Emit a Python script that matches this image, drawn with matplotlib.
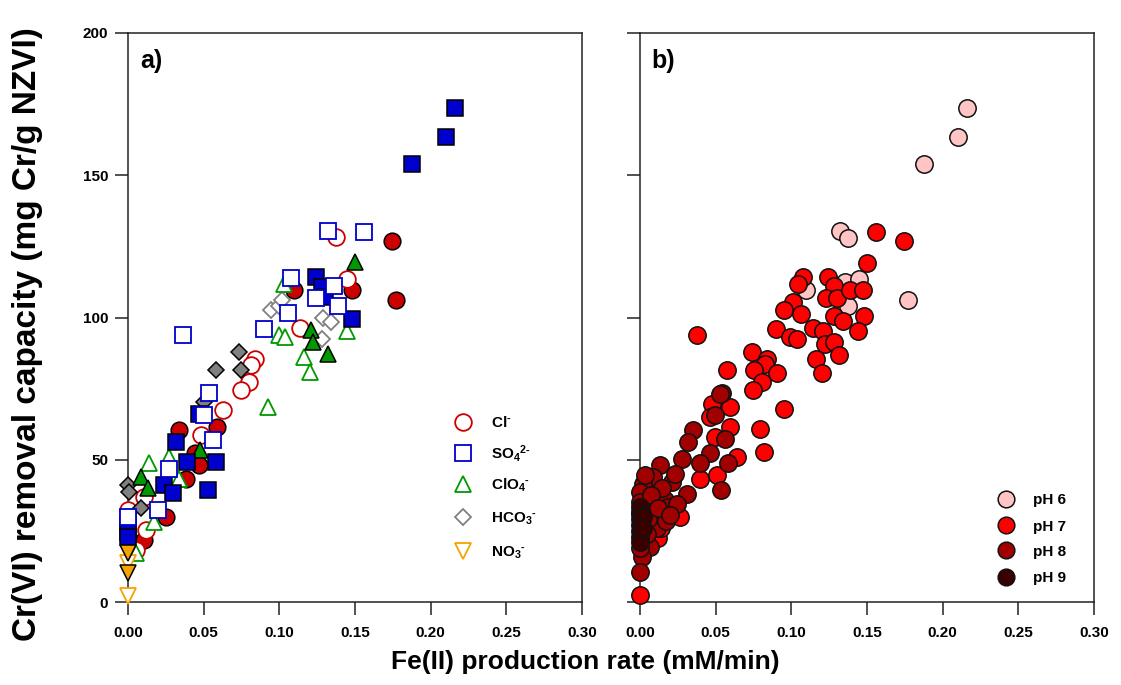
import matplotlib
matplotlib.use("Agg")
import matplotlib.pyplot as plt

plt.rcParams['font.family'] = ['Liberation Sans', 'DejaVu Sans']
plt.rcParams['font.weight'] = 'bold'
plt.rcParams['mathtext.fontset'] = 'custom'
plt.rcParams['mathtext.rm'] = 'Liberation Sans:bold'
plt.rcParams['mathtext.bf'] = 'Liberation Sans:bold'
plt.rcParams['mathtext.it'] = 'Liberation Sans:bold'
plt.rcParams['mathtext.default'] = 'bf'

# ---------------- panel a: anion series (x = Fe(II) rate, y = capacity) ----------------
cl_open_x = [0.1375, 0.145, 0.1137, 0.084, 0.081, 0.080, 0.0746, 0.0627, 0.048, 0.0108, 0.0119, 0.0051, 0.0]
cl_open_y = [128.2, 113.6, 96.4, 85.5, 83.2, 77.3, 74.4, 67.4, 58.6, 37.0, 25.3, 18.2, 32.5]
cl_fill_x = [0.1746, 0.177, 0.148, 0.110, 0.059, 0.034, 0.044, 0.0472, 0.0384, 0.0252, 0.0108]
cl_fill_y = [126.8, 106.3, 109.5, 109.5, 61.5, 60.4, 52.2, 48.1, 43.4, 29.9, 21.8]

so4_open_x = [0.132, 0.156, 0.108, 0.136, 0.124, 0.139, 0.1055, 0.090, 0.0364, 0.0532, 0.0505,
              0.056, 0.0274, 0.0197, 0.0]
so4_open_y = [130.3, 129.9, 113.9, 111.2, 106.9, 104.2, 101.5, 96.0, 93.7, 73.4, 65.6,
              57.1, 46.6, 32.3, 29.9]
so4_fill_x = [0.216, 0.210, 0.1876, 0.124, 0.128, 0.130, 0.148, 0.0466, 0.0318, 0.039, 0.0583,
              0.024, 0.0296, 0.0528, 0.0, 0.0, 0.0]
so4_fill_y = [173.6, 163.6, 154.1, 114.2, 110.6, 107.1, 99.5, 66.2, 56.3, 49.2, 49.2,
              41.0, 38.4, 39.3, 27.6, 24.6, 22.9]

clo4_open_x = [0.103, 0.100, 0.104, 0.116, 0.120, 0.1446, 0.0923, 0.0274, 0.0137, 0.034, 0.0174, 0.0053]
clo4_open_y = [111.6, 93.7, 93.1, 86.1, 80.8, 95.4, 68.5, 51.0, 48.7, 43.4, 28.2, 17.1]
clo4_fill_x = [0.150, 0.121, 0.122, 0.132, 0.0479, 0.0086, 0.0134]
clo4_fill_y = [119.6, 95.7, 91.3, 87.3, 53.3, 43.8, 40.2]

hco3_open_x = [0.0945, 0.100, 0.102, 0.129, 0.134, 0.128]
hco3_open_y = [102.5, 104.2, 106.0, 99.9, 98.4, 92.5]
hco3_fill_x = [0.0735, 0.058, 0.0746, 0.0505, 0.0, 0.0009, 0.0086]
hco3_fill_y = [87.8, 81.4, 81.4, 70.3, 41.0, 38.7, 32.9]

no3_open_x = [0.0, 0.0]
no3_open_y = [13.6, 2.1]
no3_fill_x = [0.0, 0.0]
no3_fill_y = [17.1, 10.1]

# ---------------- panel b: pH series ----------------
ph6_x = [0.2163, 0.2104, 0.1877, 0.1322, 0.1377, 0.1769, 0.1355, 0.1444, 0.110, 0.1377]
ph6_y = [173.6, 163.6, 154.1, 130.5, 128.0, 106.2, 112.4, 113.6, 109.5, 104.2]

ph7_x = [0.156, 0.1745, 0.1498, 0.108, 0.1046, 0.1245, 0.128, 0.123, 0.130, 0.139, 0.1476,
         0.101, 0.0952, 0.1062, 0.128, 0.134, 0.1481, 0.1443, 0.0899, 0.0991, 0.104, 0.1146,
         0.121, 0.1223, 0.128, 0.1318, 0.1163, 0.1201, 0.0375, 0.0738, 0.0842, 0.0826, 0.0753,
         0.0903, 0.0577, 0.0804, 0.0749, 0.0954, 0.0793, 0.0820, 0.0595, 0.0595, 0.0639, 0.0496,
         0.0474, 0.0507, 0.0397, 0.0264, 0.0121, 0.0, 0.0465, 0.0140]
ph7_y = [129.9, 126.8, 119.1, 114.4, 111.6, 114.4, 110.9, 106.9, 106.9, 109.5, 109.7,
         105.4, 102.5, 101.3, 100.4, 98.7, 100.4, 95.2, 96.0, 93.3, 92.5, 96.4,
         95.2, 90.8, 91.3, 86.7, 85.5, 80.5, 93.7, 87.8, 85.5, 83.5, 81.6,
         80.5, 81.6, 77.3, 74.6, 68.0, 60.9, 52.7, 68.5, 61.5, 51.0, 58.0,
         69.7, 44.6, 43.4, 29.9, 22.4, 2.5, 65.0, 26.0]

ph8_x = [0.054, 0.0529, 0.0496, 0.056, 0.0352, 0.0319, 0.0463, 0.0584, 0.0397, 0.0534, 0.0276,
         0.0132, 0.021, 0.0309, 0.0088, 0.0022, 0.0165, 0.0099, 0.0185, 0.011, 0.0066, 0.001,
         0.0, 0.0022, 0.001, 0.0231, 0.0, 0.0, 0.0, 0.0045, 0.0045, 0.005, 0.0145, 0.017,
         0.0245, 0.0075, 0.0120, 0.0030, 0.0200, 0.0000]
ph8_y = [73.4, 73.2, 65.6, 57.4, 60.4, 56.2, 52.2, 48.7, 48.9, 39.3, 50.1,
         48.1, 42.2, 38.1, 44.0, 41.6, 35.8, 31.1, 33.5, 25.9, 19.4, 15.9,
         10.6, 36.5, 28.5, 45.0, 38.5, 35.0, 31.5, 33.0, 24.0, 29.0, 40.0, 28.5,
         34.5, 37.5, 33.0, 44.5, 30.5, 19.0]

ph9_x = [0.0, 0.0, 0.0, 0.0, 0.0, 0.0, 0.0, 0.002, 0.002]
ph9_y = [33.5, 31.0, 29.0, 27.0, 25.0, 23.0, 21.0, 30.0, 26.0]

x_ticks = [0.00, 0.05, 0.10, 0.15, 0.20, 0.25, 0.30]
y_ticks = [0, 50, 100, 150, 200]

RED, BLUE, GREEN, GRAY, ORANGE = '#CC0000', '#0000CC', '#009900', '#808080', '#F5A300'
PH_COLORS = ['#FFC4C4', '#FF0000', '#A00000', '#3A0000']

W, H = 1121, 685
fig = plt.figure(figsize=(W / 100, H / 100), dpi=100)
axA = fig.add_axes([128 / W, 83 / H, 454 / W, 569 / H])
axB = fig.add_axes([640 / W, 83 / H, 454 / W, 569 / H])

MS = {'o': 12.0, 's': 11.5, '^': 12.0, 'D': 7.8, 'v': 12.0}


def pts(ax, x, y, marker, color, filled):
    if filled:
        ax.plot(x, y, ls='none', marker=marker, ms=MS[marker], mfc=color, mec='black',
                mew=1.1, clip_on=False, zorder=3)
    else:
        ax.plot(x, y, ls='none', marker=marker, ms=MS[marker], mfc='white', mec=color,
                mew=1.3, clip_on=False, zorder=3)


pts(axA, cl_fill_x, cl_fill_y, 'o', RED, True)
pts(axA, cl_open_x, cl_open_y, 'o', RED, False)
pts(axA, hco3_fill_x, hco3_fill_y, 'D', GRAY, True)
pts(axA, hco3_open_x, hco3_open_y, 'D', GRAY, False)
pts(axA, clo4_open_x, clo4_open_y, '^', GREEN, False)
pts(axA, clo4_fill_x, clo4_fill_y, '^', GREEN, True)
pts(axA, so4_fill_x, so4_fill_y, 's', BLUE, True)
pts(axA, so4_open_x, so4_open_y, 's', BLUE, False)
pts(axA, no3_open_x, no3_open_y, 'v', ORANGE, False)
pts(axA, no3_fill_x, no3_fill_y, 'v', ORANGE, True)

for xs, ys, c in zip([ph6_x, ph7_x, ph8_x, ph9_x], [ph6_y, ph7_y, ph8_y, ph9_y], PH_COLORS):
    axB.plot(xs, ys, ls='none', marker='o', ms=12.5, mfc=c, mec='#111111', mew=1.1,
             clip_on=False, zorder=3)

for ax in (axA, axB):
    ax.set_xlim(0, 0.30)
    ax.set_ylim(0, 200)
    ax.set_xticks(x_ticks)
    ax.set_xticklabels([f'{t:.2f}' for t in x_ticks])
    ax.set_yticks(y_ticks)
    ax.tick_params(direction='out', length=9.4, width=1.1, colors='#222222', pad=5,
                   labelsize=11, top=False, right=False)
    ax.tick_params(axis='x', pad=8)
    for lab in ax.get_xticklabels() + ax.get_yticklabels():
        lab.set_fontweight('bold')
        lab.set_color('black')
    for s in ax.spines.values():
        s.set_linewidth(1.1)
        s.set_color('#222222')
axB.tick_params(labelleft=False)

axA.text(0.026, 0.972, 'a)', transform=axA.transAxes, fontsize=18, fontweight='bold', va='top')
axB.text(0.026, 0.972, 'b)', transform=axB.transAxes, fontsize=18, fontweight='bold', va='top')

# legend, panel a
leg_a = [('o', RED, r'Cl$^{\text{-}}$'), ('s', BLUE, r'SO$_4$$^{\text{2-}}$'),
         ('^', GREEN, r'ClO$_4$$^{\text{-}}$'), ('D', GRAY, r'HCO$_3$$^{\text{-}}$'),
         ('v', ORANGE, r'NO$_3$$^{\text{-}}$')]
rows_a = [0.317, 0.262, 0.207, 0.149, 0.090]
for (m, c, lab), yy in zip(leg_a, rows_a):
    axA.plot([0.737], [yy], transform=axA.transAxes, ls='none', marker=m, ms=MS[m],
             mfc='white', mec=c, mew=1.3, clip_on=False)
    axA.text(0.799, yy - 0.0095, lab, transform=axA.transAxes, fontsize=11,
             fontweight='bold', va='baseline', ha='left')

# legend, panel b
rows_b = [0.181, 0.135, 0.091, 0.044]
for c, lab, yy in zip(PH_COLORS, ['pH 6', 'pH 7', 'pH 8', 'pH 9'], rows_b):
    axB.plot([0.806], [yy], transform=axB.transAxes, ls='none', marker='o', ms=12,
             mfc=c, mec='#111111', mew=1.1, clip_on=False)
    axB.text(0.866, yy - 0.0095, lab, transform=axB.transAxes, fontsize=11,
             fontweight='bold', va='baseline', ha='left')

fig.text(585 / W, 1 - 662 / H, 'Fe(II) production rate (mM/min)', fontsize=19,
         fontweight='bold', ha='center', va='center')
fig.text(28 / W, 1 - 334 / H, 'Cr(VI) removal capacity (mg Cr/g NZVI)', fontsize=24,
         fontweight='bold', ha='center', va='center', rotation=90)

fig.savefig('out.png', dpi=100)
